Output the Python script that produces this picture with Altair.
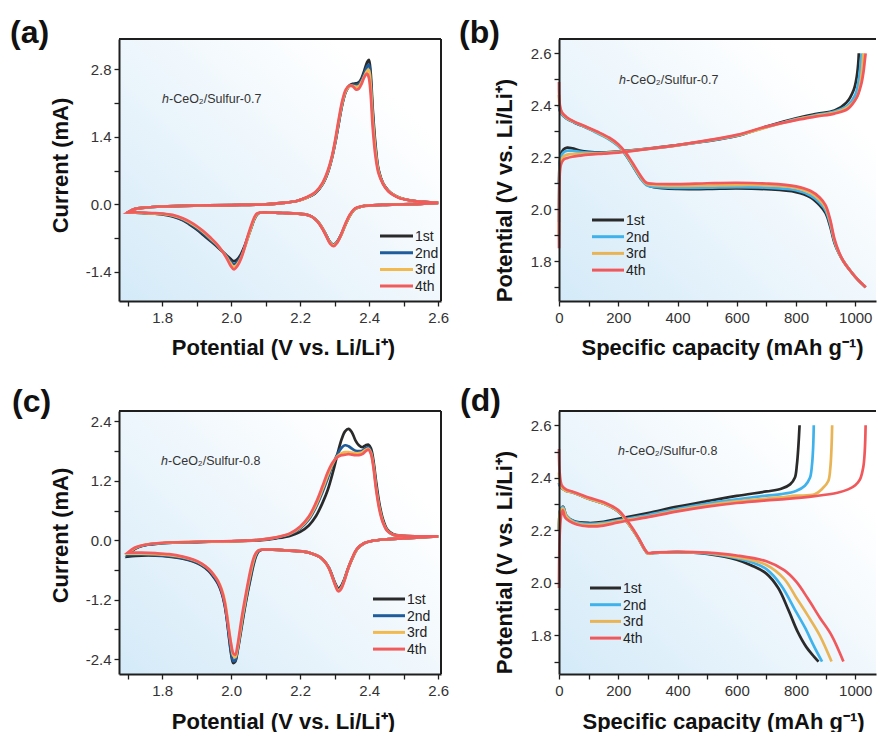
import altair as alt
import pandas as pd

CYCLES = ["1st", "2nd", "3rd", "4th"]
CV_COLORS = ["#2a2a2a", "#1f5c9c", "#f1b94e", "#f15b5b"]
GCD_COLORS = ["#2a2a2a", "#3fb2ec", "#e9b455", "#f0585b"]

# ---------------- (a) CV, h-CeO2/Sulfur-0.7 ----------------
A_CAT_V = [2.60, 2.55, 2.50, 2.45, 2.41, 2.38, 2.36, 2.345, 2.33, 2.318, 2.307, 2.297, 2.287, 2.276, 2.263,
           2.25, 2.235, 2.215, 2.19, 2.15, 2.11, 2.085, 2.075, 2.067, 2.058, 2.048, 2.038, 2.028, 2.018, 2.008,
           1.998, 1.987, 1.973, 1.958, 1.94, 1.92, 1.90, 1.88, 1.86, 1.83, 1.80, 1.77, 1.74, 1.70]
A_CAT_1 = [0.03, 0.01, 0.00, -0.01, -0.02, -0.04, -0.09, -0.22, -0.44, -0.64, -0.78, -0.84, -0.79, -0.65, -0.48,
           -0.35, -0.26, -0.21, -0.19, -0.18, -0.17, -0.17, -0.21, -0.31, -0.48, -0.68, -0.88, -1.04, -1.14, -1.18,
           -1.13, -1.06, -0.97, -0.87, -0.76, -0.64, -0.52, -0.42, -0.33, -0.25, -0.21, -0.19, -0.18, -0.17]
A_CAT_2 = [0.03, 0.01, 0.00, -0.01, -0.02, -0.04, -0.09, -0.22, -0.44, -0.64, -0.78, -0.84, -0.79, -0.65, -0.48,
           -0.35, -0.26, -0.21, -0.19, -0.18, -0.17, -0.17, -0.21, -0.31, -0.49, -0.70, -0.91, -1.08, -1.19, -1.24,
           -1.18, -1.08, -0.96, -0.85, -0.74, -0.61, -0.50, -0.40, -0.32, -0.24, -0.20, -0.19, -0.18, -0.17]
A_CAT_3 = [0.03, 0.01, 0.00, -0.01, -0.02, -0.04, -0.09, -0.22, -0.44, -0.65, -0.79, -0.85, -0.80, -0.66, -0.48,
           -0.35, -0.26, -0.21, -0.19, -0.18, -0.17, -0.17, -0.20, -0.30, -0.48, -0.70, -0.93, -1.12, -1.24, -1.30,
           -1.22, -1.10, -0.96, -0.83, -0.71, -0.58, -0.47, -0.38, -0.30, -0.23, -0.20, -0.19, -0.18, -0.17]
A_CAT_4 = [0.03, 0.01, 0.00, -0.01, -0.02, -0.04, -0.08, -0.20, -0.42, -0.64, -0.80, -0.87, -0.82, -0.67, -0.49,
           -0.36, -0.26, -0.21, -0.19, -0.18, -0.17, -0.17, -0.19, -0.27, -0.44, -0.66, -0.92, -1.14, -1.28, -1.35,
           -1.27, -1.12, -0.96, -0.82, -0.69, -0.56, -0.45, -0.36, -0.29, -0.22, -0.19, -0.18, -0.17, -0.17]
A_ANO_V = [1.70, 1.72, 1.75, 1.80, 1.90, 2.00, 2.10, 2.15, 2.19, 2.22, 2.245, 2.265, 2.28, 2.292, 2.302,
           2.312, 2.322, 2.332, 2.342, 2.352, 2.362, 2.37, 2.378, 2.386, 2.394, 2.399, 2.404, 2.41, 2.418, 2.427,
           2.44, 2.455, 2.47, 2.49, 2.52, 2.56, 2.60]
A_ANO_1 = [-0.17, -0.10, -0.07, -0.045, -0.025, -0.015, 0.00, 0.03, 0.07, 0.14, 0.24, 0.42, 0.66, 0.96, 1.30,
           1.70, 2.08, 2.34, 2.46, 2.50, 2.51, 2.53, 2.62, 2.78, 2.95, 3.00, 2.75, 2.00, 1.25, 0.72,
           0.44, 0.29, 0.20, 0.13, 0.08, 0.05, 0.03]
A_ANO_2 = [-0.17, -0.10, -0.07, -0.045, -0.025, -0.015, 0.00, 0.03, 0.07, 0.14, 0.24, 0.42, 0.66, 0.96, 1.30,
           1.70, 2.08, 2.33, 2.45, 2.48, 2.48, 2.50, 2.58, 2.72, 2.86, 2.90, 2.62, 1.90, 1.18, 0.70,
           0.43, 0.28, 0.20, 0.13, 0.08, 0.05, 0.03]
A_ANO_3 = [-0.17, -0.10, -0.07, -0.045, -0.025, -0.015, 0.00, 0.03, 0.07, 0.14, 0.25, 0.43, 0.68, 0.98, 1.33,
           1.74, 2.11, 2.35, 2.45, 2.46, 2.44, 2.45, 2.54, 2.66, 2.77, 2.79, 2.50, 1.80, 1.12, 0.68,
           0.43, 0.28, 0.20, 0.13, 0.08, 0.05, 0.03]
A_ANO_4 = [-0.17, -0.10, -0.07, -0.045, -0.025, -0.015, 0.00, 0.03, 0.07, 0.15, 0.26, 0.45, 0.70, 1.00, 1.36,
           1.78, 2.15, 2.38, 2.46, 2.45, 2.38, 2.40, 2.50, 2.64, 2.71, 2.62, 2.30, 1.60, 1.00, 0.64,
           0.42, 0.27, 0.19, 0.12, 0.08, 0.05, 0.03]

# ---------------- (b) charge/discharge, h-CeO2/Sulfur-0.7 ----------------
B_DIS_C = [0, 3, 10, 25, 50, 90, 130, 170, 200, 225, 250, 275, 295, 320, 400,
           500, 600, 700, 800, 850, 880, 900, 915, 930, 945, 960, 980, 1000, 1020, 1035]
B_DIS_1 = [2.40, 2.38, 2.365, 2.35, 2.335, 2.315, 2.295, 2.27, 2.245, 2.21, 2.165, 2.12, 2.095, 2.085, 2.078,
           2.078, 2.08, 2.077, 2.066, 2.045, 2.015, 1.985, 1.935, 1.87, 1.83, 1.80, 1.768, 1.74, 1.716, 1.70]
B_DIS_2 = [2.40, 2.38, 2.365, 2.35, 2.335, 2.315, 2.292, 2.268, 2.243, 2.21, 2.165, 2.12, 2.093, 2.086, 2.082,
           2.083, 2.085, 2.083, 2.073, 2.052, 2.025, 1.995, 1.945, 1.875, 1.83, 1.80, 1.768, 1.74, 1.716, 1.70]
B_DIS_3 = [2.44, 2.39, 2.37, 2.352, 2.337, 2.317, 2.296, 2.272, 2.247, 2.214, 2.17, 2.125, 2.098, 2.093, 2.09,
           2.091, 2.093, 2.092, 2.082, 2.062, 2.035, 2.005, 1.955, 1.88, 1.832, 1.80, 1.768, 1.74, 1.716, 1.70]
B_DIS_4 = [2.49, 2.40, 2.372, 2.355, 2.338, 2.318, 2.298, 2.275, 2.25, 2.218, 2.175, 2.13, 2.102, 2.098, 2.097,
           2.10, 2.102, 2.099, 2.088, 2.07, 2.045, 2.015, 1.962, 1.885, 1.835, 1.80, 1.768, 1.74, 1.716, 1.70]
B_CHG_C1 = [0, 2, 6, 15, 28, 45, 70, 100, 150, 200, 300, 400, 500, 600, 700, 800, 870, 930, 970, 995, 1005, 1010, 1012]
B_CHG_1 = [2.10, 2.17, 2.21, 2.23, 2.237, 2.234, 2.226, 2.221, 2.219, 2.222, 2.233, 2.247, 2.262, 2.282, 2.318,
           2.35, 2.367, 2.38, 2.41, 2.46, 2.51, 2.56, 2.60]
B_CHG_C2 = [0, 2, 6, 15, 28, 45, 70, 100, 150, 200, 300, 400, 500, 600, 700, 800, 870, 930, 975, 1000, 1012, 1018, 1021]
B_CHG_2 = [1.95, 2.15, 2.20, 2.218, 2.225, 2.225, 2.221, 2.218, 2.217, 2.221, 2.232, 2.246, 2.263, 2.283, 2.316,
           2.347, 2.363, 2.376, 2.40, 2.44, 2.50, 2.56, 2.60]
B_CHG_C3 = [0, 2, 6, 15, 28, 45, 70, 100, 150, 200, 300, 400, 500, 600, 700, 800, 870, 930, 975, 1005, 1018, 1024, 1027]
B_CHG_3 = [1.90, 2.13, 2.185, 2.203, 2.21, 2.212, 2.213, 2.214, 2.216, 2.22, 2.232, 2.246, 2.264, 2.284, 2.315,
           2.345, 2.36, 2.372, 2.393, 2.43, 2.49, 2.55, 2.60]
B_CHG_C4 = [0, 2, 6, 15, 28, 45, 70, 100, 150, 200, 300, 400, 500, 600, 700, 800, 870, 930, 975, 1005, 1020, 1028,
            1032, 1035]
B_CHG_4 = [1.85, 2.12, 2.17, 2.19, 2.197, 2.202, 2.206, 2.21, 2.214, 2.218, 2.232, 2.247, 2.265, 2.286, 2.318,
           2.343, 2.357, 2.368, 2.386, 2.43, 2.48, 2.53, 2.57, 2.60]

# ---------------- (c) CV, h-CeO2/Sulfur-0.8 ----------------
C_CAT_V = [2.60, 2.55, 2.50, 2.45, 2.41, 2.385, 2.365, 2.35, 2.338, 2.327, 2.318, 2.31, 2.302, 2.293, 2.283,
           2.27, 2.255, 2.235, 2.21, 2.17, 2.12, 2.09, 2.08, 2.072, 2.064, 2.056, 2.048, 2.04, 2.032, 2.025,
           2.018, 2.012, 2.006, 2.0, 1.994, 1.988, 1.981, 1.972, 1.962, 1.95, 1.935, 1.915, 1.89, 1.86, 1.82,
           1.78, 1.74, 1.70]
C_CAT_1 = [0.08, 0.06, 0.04, 0.02, -0.01, -0.06, -0.18, -0.38, -0.58, -0.80, -0.93, -0.97, -0.88, -0.72, -0.55,
           -0.42, -0.33, -0.27, -0.23, -0.21, -0.19, -0.19, -0.22, -0.32, -0.52, -0.78, -1.05, -1.35, -1.68, -1.98,
           -2.26, -2.45, -2.48, -2.30, -1.98, -1.62, -1.30, -1.05, -0.88, -0.75, -0.62, -0.51, -0.43, -0.37, -0.33,
           -0.31, -0.31, -0.33]
C_CAT_2 = [0.08, 0.06, 0.04, 0.02, -0.01, -0.06, -0.18, -0.38, -0.59, -0.82, -0.95, -0.99, -0.90, -0.73, -0.55,
           -0.42, -0.33, -0.27, -0.23, -0.21, -0.19, -0.19, -0.21, -0.30, -0.48, -0.74, -1.02, -1.32, -1.64, -1.95,
           -2.24, -2.42, -2.44, -2.26, -1.95, -1.60, -1.28, -1.03, -0.86, -0.73, -0.60, -0.50, -0.42, -0.36, -0.32,
           -0.30, -0.29, -0.30]
C_CAT_3 = [0.08, 0.06, 0.04, 0.02, -0.01, -0.06, -0.18, -0.38, -0.59, -0.83, -0.97, -1.01, -0.91, -0.74, -0.56,
           -0.42, -0.33, -0.27, -0.23, -0.21, -0.19, -0.19, -0.20, -0.27, -0.43, -0.67, -0.95, -1.26, -1.58, -1.90,
           -2.20, -2.36, -2.33, -2.12, -1.82, -1.50, -1.20, -0.98, -0.82, -0.70, -0.58, -0.48, -0.40, -0.34, -0.30,
           -0.28, -0.27, -0.27]
C_CAT_4 = [0.08, 0.06, 0.04, 0.02, -0.01, -0.06, -0.17, -0.37, -0.59, -0.84, -0.99, -1.03, -0.92, -0.74, -0.56,
           -0.42, -0.33, -0.27, -0.23, -0.21, -0.19, -0.19, -0.20, -0.25, -0.38, -0.60, -0.88, -1.18, -1.50, -1.82,
           -2.14, -2.31, -2.28, -2.10, -1.84, -1.54, -1.24, -1.00, -0.83, -0.70, -0.58, -0.47, -0.39, -0.33, -0.28,
           -0.26, -0.25, -0.25]
C_ANO_V = [1.70, 1.72, 1.75, 1.80, 1.90, 2.00, 2.08, 2.13, 2.17, 2.20, 2.225, 2.245, 2.265, 2.28, 2.295,
           2.308, 2.32, 2.33, 2.34, 2.35, 2.36, 2.37, 2.38, 2.39, 2.398, 2.405, 2.412, 2.42, 2.43, 2.44,
           2.452, 2.47, 2.50, 2.55, 2.60]
C_ANO_1 = [-0.33, -0.18, -0.10, -0.06, -0.035, -0.02, 0.00, 0.04, 0.09, 0.17, 0.30, 0.48, 0.76, 1.02, 1.38,
           1.74, 2.04, 2.20, 2.25, 2.18, 2.02, 1.92, 1.88, 1.92, 1.93, 1.86, 1.62, 1.18, 0.72, 0.42,
           0.22, 0.12, 0.09, 0.08, 0.08]
C_ANO_2 = [-0.30, -0.17, -0.10, -0.06, -0.035, -0.02, 0.01, 0.05, 0.12, 0.24, 0.42, 0.66, 0.98, 1.26, 1.54,
           1.74, 1.87, 1.92, 1.90, 1.85, 1.81, 1.80, 1.81, 1.86, 1.88, 1.80, 1.55, 1.10, 0.66, 0.38,
           0.20, 0.11, 0.09, 0.08, 0.08]
C_ANO_3 = [-0.27, -0.16, -0.09, -0.055, -0.03, -0.02, 0.01, 0.06, 0.13, 0.26, 0.45, 0.70, 1.04, 1.32, 1.56,
           1.70, 1.76, 1.78, 1.78, 1.77, 1.76, 1.76, 1.78, 1.83, 1.85, 1.77, 1.52, 1.06, 0.64, 0.37,
           0.20, 0.11, 0.09, 0.08, 0.08]
C_ANO_4 = [-0.25, -0.15, -0.09, -0.05, -0.03, -0.015, 0.01, 0.06, 0.14, 0.28, 0.48, 0.75, 1.10, 1.38, 1.58,
           1.68, 1.72, 1.73, 1.74, 1.73, 1.72, 1.72, 1.74, 1.80, 1.83, 1.74, 1.48, 1.02, 0.60, 0.35,
           0.19, 0.11, 0.09, 0.08, 0.08]

# ---------------- (d) charge/discharge, h-CeO2/Sulfur-0.8 ----------------
D_DIS_C1 = [0, 3, 10, 25, 45, 100, 155, 200, 225, 250, 270, 290, 300, 320, 400, 500, 600, 650, 700, 740, 775,
            805, 835, 860, 876]
D_DIS_1 = [2.38, 2.37, 2.36, 2.35, 2.345, 2.32, 2.30, 2.272, 2.24, 2.20, 2.165, 2.125, 2.112, 2.114, 2.117,
           2.11, 2.088, 2.066, 2.035, 1.98, 1.895, 1.815, 1.755, 1.72, 1.70]
D_DIS_C2 = [0, 3, 10, 25, 45, 100, 155, 200, 225, 250, 270, 290, 300, 320, 400, 500, 600, 650, 700, 750, 800,
            830, 860, 888]
D_DIS_2 = [2.38, 2.37, 2.36, 2.35, 2.345, 2.32, 2.30, 2.272, 2.24, 2.20, 2.165, 2.125, 2.112, 2.114, 2.117,
           2.112, 2.094, 2.078, 2.052, 1.99, 1.89, 1.83, 1.76, 1.70]
D_DIS_C3 = [0, 3, 10, 25, 45, 100, 155, 200, 225, 250, 270, 290, 300, 320, 400, 500, 600, 700, 760, 800, 840,
            880, 920]
D_DIS_3 = [2.42, 2.38, 2.362, 2.35, 2.345, 2.32, 2.30, 2.273, 2.24, 2.20, 2.165, 2.125, 2.112, 2.114, 2.117,
           2.114, 2.098, 2.068, 2.015, 1.945, 1.875, 1.80, 1.70]
D_DIS_C4 = [0, 3, 10, 25, 45, 100, 155, 200, 225, 250, 270, 290, 300, 320, 400, 500, 600, 700, 760, 800, 840,
            880, 920, 960]
D_DIS_4 = [2.51, 2.41, 2.37, 2.355, 2.348, 2.325, 2.305, 2.277, 2.245, 2.205, 2.168, 2.127, 2.114, 2.115, 2.118,
           2.115, 2.104, 2.082, 2.048, 2.005, 1.94, 1.868, 1.80, 1.70]
D_CHG_C1 = [0, 3, 8, 14, 25, 50, 100, 150, 200, 300, 400, 500, 600, 700, 750, 780, 796, 803, 808, 812]
D_CHG_1 = [2.20, 2.27, 2.285, 2.29, 2.255, 2.235, 2.228, 2.232, 2.244, 2.266, 2.29, 2.311, 2.331, 2.348, 2.358,
           2.375, 2.40, 2.45, 2.52, 2.60]
D_CHG_C2 = [0, 3, 8, 14, 25, 50, 100, 150, 200, 300, 400, 500, 600, 700, 750, 800, 830, 847, 854, 858, 860]
D_CHG_2 = [2.20, 2.27, 2.285, 2.288, 2.255, 2.234, 2.225, 2.228, 2.238, 2.258, 2.282, 2.302, 2.318, 2.332, 2.338,
           2.35, 2.37, 2.40, 2.45, 2.52, 2.60]
D_CHG_C3 = [0, 3, 8, 14, 25, 50, 100, 150, 200, 300, 400, 500, 600, 700, 750, 800, 863, 890, 909, 916, 920, 922]
D_CHG_3 = [2.20, 2.27, 2.28, 2.283, 2.252, 2.23, 2.22, 2.224, 2.234, 2.252, 2.276, 2.295, 2.31, 2.321, 2.326,
           2.332, 2.337, 2.36, 2.388, 2.44, 2.52, 2.60]
D_CHG_C4 = [0, 3, 8, 13, 20, 35, 60, 100, 150, 200, 300, 400, 500, 600, 700, 750, 863, 940, 976, 1000, 1016,
            1027, 1032, 1035]
D_CHG_4 = [1.98, 2.20, 2.26, 2.276, 2.25, 2.235, 2.222, 2.215, 2.218, 2.23, 2.25, 2.272, 2.29, 2.304, 2.314,
           2.318, 2.33, 2.343, 2.356, 2.372, 2.394, 2.44, 2.50, 2.60]

# tick positions
CV_XTICKS = [1.7, 1.8, 1.9, 2.0, 2.1, 2.2, 2.3, 2.4, 2.5, 2.6]
A_YTICKS = [-1.4, -0.7, 0.0, 0.7, 1.4, 2.1, 2.8]
C_YTICKS = [-2.4, -1.8, -1.2, -0.6, 0.0, 0.6, 1.2, 1.8, 2.4]
GCD_XTICKS = [0, 100, 200, 300, 400, 500, 600, 700, 800, 900, 1000]
GCD_YTICKS = [1.7, 1.8, 1.9, 2.0, 2.1, 2.2, 2.3, 2.4, 2.5, 2.6]


def cv_frame(cat_v, cats, ano_v, anos):
    rows = []
    for cyc, ci, ai in zip(CYCLES, cats, anos):
        assert len(ci) == len(cat_v), (cyc, len(ci), len(cat_v))
        assert len(ai) == len(ano_v), (cyc, len(ai), len(ano_v))
        k = 0
        for v, i in zip(cat_v, ci):
            rows.append({"cycle": cyc, "seg": "scan", "k": k, "x": v, "y": i})
            k += 1
        for v, i in zip(ano_v, ai):
            rows.append({"cycle": cyc, "seg": "scan", "k": k, "x": v, "y": i})
            k += 1
    return pd.DataFrame(rows)


def gcd_frame(dis, chg):
    rows = []
    for cyc, (dc, dv), (cc, cv) in zip(CYCLES, dis, chg):
        assert len(dc) == len(dv), (cyc, len(dc), len(dv))
        assert len(cc) == len(cv), (cyc, len(cc), len(cv))
        for k, (c, v) in enumerate(zip(dc, dv)):
            rows.append({"cycle": cyc, "seg": "discharge", "k": k, "x": c, "y": v})
        for k, (c, v) in enumerate(zip(cc, cv)):
            rows.append({"cycle": cyc, "seg": "charge", "k": k, "x": c, "y": v})
    return pd.DataFrame(rows)


DF_A = cv_frame(A_CAT_V, [A_CAT_1, A_CAT_2, A_CAT_3, A_CAT_4], A_ANO_V, [A_ANO_1, A_ANO_2, A_ANO_3, A_ANO_4])
DF_C = cv_frame(C_CAT_V, [C_CAT_1, C_CAT_2, C_CAT_3, C_CAT_4], C_ANO_V, [C_ANO_1, C_ANO_2, C_ANO_3, C_ANO_4])
DF_B = gcd_frame([(B_DIS_C, B_DIS_1), (B_DIS_C, B_DIS_2), (B_DIS_C, B_DIS_3), (B_DIS_C, B_DIS_4)],
                 [(B_CHG_C1, B_CHG_1), (B_CHG_C2, B_CHG_2), (B_CHG_C3, B_CHG_3), (B_CHG_C4, B_CHG_4)])
DF_D = gcd_frame([(D_DIS_C1, D_DIS_1), (D_DIS_C2, D_DIS_2), (D_DIS_C3, D_DIS_3), (D_DIS_C4, D_DIS_4)],
                 [(D_CHG_C1, D_CHG_1), (D_CHG_C2, D_CHG_2), (D_CHG_C3, D_CHG_3), (D_CHG_C4, D_CHG_4)])

ONE = pd.DataFrame({"d": [0]})
FONT = "Liberation Sans"
FRAME = "#1e1e1e"
GRAD = alt.LinearGradient(
    gradient="linear",
    stops=[alt.GradientStop(color="#d4eaf8", offset=0),
           alt.GradientStop(color="#edf6fc", offset=0.5),
           alt.GradientStop(color="#ffffff", offset=0.88)],
    x1=0, y1=1, x2=1, y2=0.15)

DEC1 = "replace(format(datum.value, '.1f'), '\u2212', '-')"


def axis_x(title, values, expr, tx, ty):
    return alt.Axis(title=title, values=values, labelExpr=expr, titleX=tx, titleY=ty,
                    titleBaseline="alphabetic", titleAlign="center", labelPadding=4, labelFlush=False,
                    zindex=1)


def axis_y(title, values, expr, tx, ty):
    return alt.Axis(title=title, values=values, labelExpr=expr, titleX=tx, titleY=ty,
                    titleAngle=270, titleBaseline="bottom", titleAlign="center", labelPadding=3,
                    labelFlush=False, zindex=1)


def panel(df, colors, xdom, ydom, xaxis, yaxis, w, h, tag, tag_xy, sample, note_xy, leg_xy, open_right):
    layers = [alt.Chart(ONE).mark_rect(fill=GRAD).encode(
        x=alt.value(0), x2=alt.value("width"), y=alt.value(0), y2=alt.value("height"))]
    for cyc, col in zip(CYCLES, colors):
        layers.append(alt.Chart(df[df["cycle"] == cyc]).mark_line(
            color=col, strokeWidth=2.7, interpolate="catmull-rom").encode(
            x=alt.X("x:Q", scale=alt.Scale(domain=xdom, nice=False, zero=False), axis=xaxis),
            y=alt.Y("y:Q", scale=alt.Scale(domain=ydom, nice=False, zero=False), axis=yaxis),
            detail="seg:N", order="k:Q"))
    # frame: top edge always, right edge only for full frames
    layers.append(alt.Chart(ONE).mark_rule(color=FRAME, strokeWidth=2).encode(
        x=alt.value(0), x2=alt.value("width"), y=alt.value(0)))
    if not open_right:
        layers.append(alt.Chart(ONE).mark_rule(color=FRAME, strokeWidth=2).encode(
            x=alt.value("width"), y=alt.value(0), y2=alt.value("height")))
    # sample annotation
    nx, ny = note_xy
    layers.append(alt.Chart(ONE).mark_text(text="h", fontStyle="italic", align="left", baseline="alphabetic",
                                           font=FONT, fontSize=12.5, color="#333333").encode(
        x=alt.value(nx), y=alt.value(ny)))
    layers.append(alt.Chart(ONE).mark_text(text="-CeO\u2082/Sulfur-" + sample, align="left",
                                           baseline="alphabetic", font=FONT, fontSize=12.5,
                                           color="#333333").encode(
        x=alt.value(nx + 7), y=alt.value(ny)))
    # legend
    lx1, lx2, ly = leg_xy
    for i, (cyc, col) in enumerate(zip(CYCLES, colors)):
        yy = ly + i * 16.7
        layers.append(alt.Chart(ONE).mark_rule(color=col, strokeWidth=3).encode(
            x=alt.value(lx1), x2=alt.value(lx2), y=alt.value(yy)))
        layers.append(alt.Chart(ONE).mark_text(text=cyc, align="left", baseline="middle", font=FONT,
                                               fontSize=14, color="#222222").encode(
            x=alt.value(lx2 + 2), y=alt.value(yy + 1)))
    # panel tag
    layers.append(alt.Chart(ONE).mark_text(text=tag, align="left", baseline="alphabetic", font=FONT,
                                           fontSize=32, fontWeight="bold", color="#111111").encode(
        x=alt.value(tag_xy[0]), y=alt.value(tag_xy[1])))
    return alt.layer(*layers).properties(width=w, height=h)


POT = "Potential (V vs. Li/Li\u207a)"
CAP = "Specific capacity (mAh g\u207b\u00b9)"
X_EXPR = "round(datum.value*10) % 2 == 0 ? " + DEC1 + " : ''"
CAP_EXPR = "round(datum.value/100) % 2 == 0 ? format(datum.value, 'd') : ''"

pa = panel(DF_A, CV_COLORS, [1.675, 2.608], [-2.006, 3.43],
           axis_x(POT, CV_XTICKS, X_EXPR, 164, 53),
           axis_y("Current (mA)", A_YTICKS, "round(datum.value/0.7) % 2 == 0 ? " + DEC1 + " : ''", -47, 126),
           322, 262, "(a)", (-109, 4), "0.7", (43, 64), (261, 294, 197), False)
pb = panel(DF_B, GCD_COLORS, [0, 1070], [1.647, 2.655],
           axis_x(CAP, GCD_XTICKS, CAP_EXPR, 163, 53),
           axis_y(POT, GCD_YTICKS, X_EXPR, -43, 151),
           317, 262, "(b)", (-100, 4), "0.7", (60, 45), (33, 65, 181), True)
pc = panel(DF_C, CV_COLORS, [1.675, 2.608], [-2.701, 2.612],
           axis_x(POT, CV_XTICKS, X_EXPR, 164, 54),
           axis_y("Current (mA)", C_YTICKS, "round(datum.value/0.6) % 2 == 0 ? " + DEC1 + " : ''", -47, 124),
           322, 263, "(c)", (-107, 1), "0.8", (42, 54), (254, 286, 188), False)
pd_ = panel(DF_D, GCD_COLORS, [0, 1070], [1.6526, 2.6545],
            axis_x(CAP, GCD_XTICKS, CAP_EXPR, 164, 54),
            axis_y(POT, GCD_YTICKS, X_EXPR, -43, 151),
            317, 263, "(d)", (-99, 0), "0.8", (59, 44), (31, 62, 177), True)

chart = alt.concat(pa, pb, pc, pd_, columns=2, spacing={"row": 110, "column": 118}, bounds="flush").properties(
    padding={"left": 10, "top": 17, "right": 0, "bottom": 0}, background="white"
).configure_axis(
    labelFont=FONT, labelFontSize=15, labelColor="#333333",
    titleFont=FONT, titleFontSize=22, titleFontWeight="bold", titleColor="#111111",
    tickColor=FRAME, tickSize=5, tickWidth=1.3,
    domainColor=FRAME, domainWidth=2, grid=False
).configure_view(stroke=None)

chart.save("out.html", embed_options={"renderer": "svg", "actions": False})
